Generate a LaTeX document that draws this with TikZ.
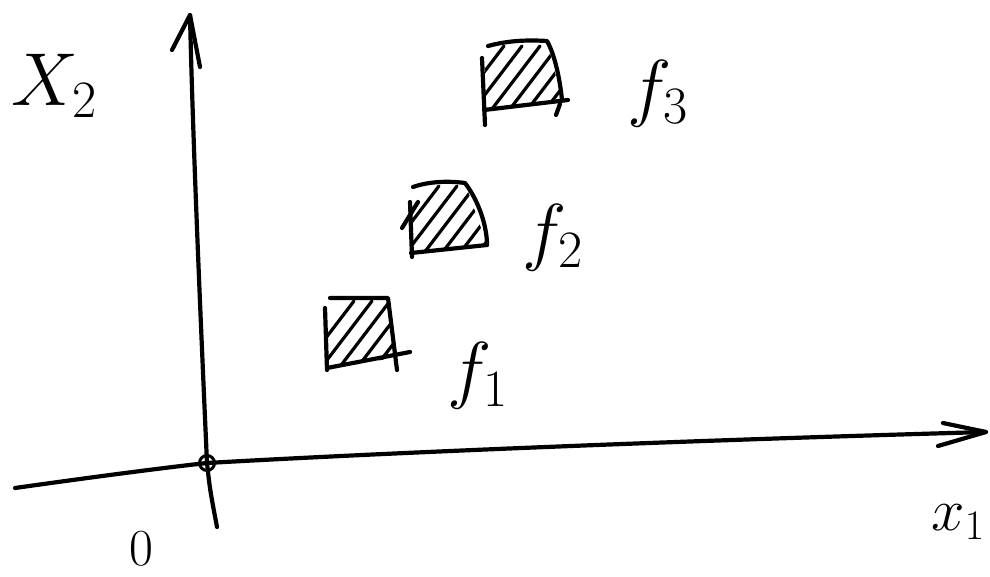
\RequirePackage{fix-cm}
\documentclass[tikz,border=0pt]{standalone}
\begin{document}
\begin{tikzpicture}[x=1pt,y=-1pt, line cap=round, line join=round,
  ink/.style={line width=4.2pt, black},
  hatchline/.style={line width=3.2pt, black},
  lbl/.style={inner sep=0pt, font=\fontsize{75}{75}\selectfont},
  smalllbl/.style={inner sep=0pt, font=\fontsize{60}{60}\selectfont}]
\useasboundingbox (0,0) rectangle (990,577);
% axes
\coordinate (xs) at (15,488);
\coordinate (xe) at (986,432);
\coordinate (ys) at (217,527);
\coordinate (ye) at (190,15);
\node[circle, draw, line width=3pt, minimum size=15pt, inner sep=0pt] (O) at (207,463) {};
\draw[ink] (xs) .. controls (100,476) and (170,467) .. (O.center)
  .. controls (400,452) and (700,440) .. (xe);
\draw[ink] (943,423) -- (xe) -- (938,446);
\draw[ink] (ye) .. controls (193,150) and (202,350) .. (O.center)
  .. controls (210,490) .. (ys);
\draw[ink] (172,50) -- (ye) -- (200,67);
% labels
\node[lbl] (lx2) at (54,86) {$X_2$};
\node[smalllbl] (lx1) at (958,522) {$x_1$};
\node[inner sep=0pt, font=\fontsize{52}{52}\selectfont] (l0) at (141,549) {$0$};
% f3 box
\begin{scope}
\clip (485,46) -- (547,41) -- (562,100) -- (485,110) -- cycle;
\foreach \d in {440,458,476,494,512,530,548}
  \draw[hatchline] (\d,130) -- ++(64,-84);
\end{scope}
\draw[ink] (488,46) .. controls (510,40) and (530,40) .. (547,41)
  .. controls (555,55) and (560,80) .. (562,100);
\draw[ink] (484,110) -- (568,100);
\draw[ink] (482,58) -- (485,125);
\draw[ink] (556,115) -- (560,104);
\node[lbl] (f3) at (658,94) {$f_3$};
% f2 box
\begin{scope}
\clip (411,187) -- (465,183) -- (487,245) -- (411,253) -- cycle;
\foreach \d in {375,393,411,429,447,465}
  \draw[hatchline] (\d,270) -- ++(64,-84);
\end{scope}
\draw[ink] (413,187) .. controls (430,181) and (450,181) .. (465,183)
  .. controls (478,200) and (487,225) .. (487,245);
\draw[ink] (411,253) -- (487,245);
\draw[ink] (410,202) -- (412,257);
\draw[ink] (402,228) -- (418,202);
\node[lbl] (f2) at (553,238) {$f_2$};
% f1 box
\begin{scope}
\clip (326,298) -- (388,298) -- (395,358) -- (327,368) -- cycle;
\foreach \d in {290,308,326,344,362,380}
  \draw[hatchline] (\d,385) -- ++(64,-84);
\end{scope}
\draw[ink] (330,298) -- (388,298) -- (397,370);
\draw[ink] (327,368) -- (410,352);
\draw[ink] (325,308) -- (327,370);
\node[lbl] (f1) at (478,376) {$f_1$};
\end{tikzpicture}
\end{document}
